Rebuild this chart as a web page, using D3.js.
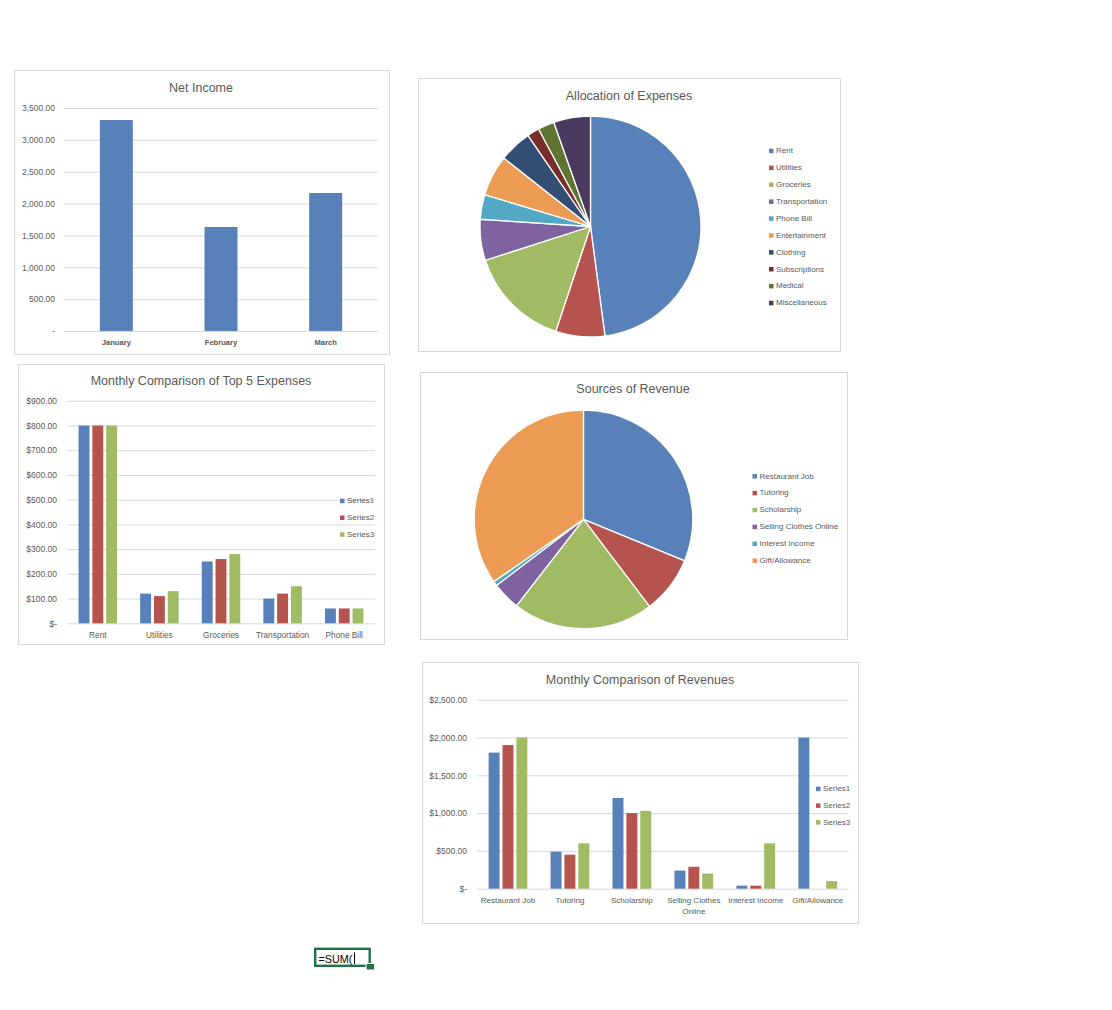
<!DOCTYPE html>
<html>
<head>
<meta charset="utf-8">
<script src="https://cdn.jsdelivr.net/npm/d3@7"></script>
<style>
  body { margin: 0; background: #ffffff; }
  text { font-family: "Liberation Sans", Arial, sans-serif; }
</style>
</head>
<body>
<script>
// ---- data ----
const months = ["January", "February", "March"];
const netIncome = [3311, 1632, 2166];
const netTicks = [0, 500, 1000, 1500, 2000, 2500, 3000, 3500];
const netTickLabels = ["-", "500.00", "1,000.00", "1,500.00", "2,000.00", "2,500.00", "3,000.00", "3,500.00"];

const expenseCats = ["Rent", "Utilities", "Groceries", "Transportation", "Phone Bill",
                     "Entertainment", "Clothing", "Subscriptions", "Medical", "Miscellaneous"];
const expenseShare = [800, 120, 250, 100, 60, 100, 80, 30, 40, 90];

const seriesNames = ["Series1", "Series2", "Series3"];
const top5Cats = ["Rent", "Utilities", "Groceries", "Transportation", "Phone Bill"];
const top5S1 = [800, 120, 250, 100, 60];
const top5S2 = [800, 110, 260, 120, 60];
const top5S3 = [800, 130, 280, 150, 60];
const top5Ticks = [0, 100, 200, 300, 400, 500, 600, 700, 800, 900];
const top5TickLabels = ["$-", "$100.00", "$200.00", "$300.00", "$400.00", "$500.00", "$600.00", "$700.00", "$800.00", "$900.00"];

const revenueCats = ["Restaurant Job", "Tutoring", "Scholarship", "Selling Clothes Online", "Interest Income", "Gift/Allowance"];
const revenueShare = [1800, 490, 1200, 240, 40, 2000];
const revS1 = [1800, 490, 1200, 240, 40, 2000];
const revS2 = [1900, 450, 1000, 290, 40, 0];
const revS3 = [2000, 600, 1030, 200, 600, 100];
const revTicks = [0, 500, 1000, 1500, 2000, 2500];
const revTickLabels = ["$-", "$500.00", "$1,000.00", "$1,500.00", "$2,000.00", "$2,500.00"];
const revCatLines = [["Restaurant Job"], ["Tutoring"], ["Scholarship"], ["Selling Clothes", "Online"], ["Interest Income"], ["Gift/Allowance"]];

// Excel-ish palette
const palette = ["#5880b9", "#b5544f", "#a1bb64", "#7e63a0", "#52a8c5",
                 "#eb9b54", "#334d73", "#772e2b", "#5f7532", "#4a3a5f"];
const textGrey = "#595959";
const gridGrey = "#d9d9d9";

const svg = d3.select("body").append("svg")
    .attr("width", 1112)
    .attr("height", 1010)
    .style("background", "#ffffff");

// chart frame
function frame(x, y, w, h) {
    svg.append("rect")
        .attr("x", x + 0.5).attr("y", y + 0.5)
        .attr("width", w).attr("height", h)
        .attr("fill", "#ffffff")
        .attr("stroke", gridGrey);
}

function title(text, cx, cy) {
    svg.append("text")
        .attr("x", cx).attr("y", cy)
        .attr("text-anchor", "middle")
        .attr("dominant-baseline", "central")
        .style("font-size", "12.5px")
        .style("fill", textGrey)
        .text(text);
}

// y axis with gridlines
function yGrid(y, ticks, labels, x0, x1, pad) {
    const g = svg.append("g").attr("transform", `translate(${x0},0)`)
        .call(d3.axisLeft(y)
            .tickValues(ticks)
            .tickFormat((d, i) => labels[i])
            .tickSize(-(x1 - x0))
            .tickPadding(pad));
    g.select(".domain").remove();
    g.selectAll("line").attr("stroke", gridGrey);
    g.selectAll("text").style("font-size", "8.5px").style("fill", textGrey)
        .style("font-family", "'Liberation Sans', Arial, sans-serif");
    return g;
}

function legend(items, x, y0, step, colors) {
    const g = svg.append("g");
    const it = g.selectAll("g").data(items).join("g")
        .attr("transform", (d, i) => `translate(${x},${y0 + i * step})`);
    it.append("rect")
        .attr("x", -2).attr("y", -2).attr("width", 4.5).attr("height", 4.5)
        .attr("fill", (d, i) => colors[i]);
    it.append("text")
        .attr("x", 5).attr("dominant-baseline", "central")
        .style("font-size", "8px").style("fill", textGrey)
        .text(d => d);
}

// ---- Net Income ----
frame(14, 70, 375, 284);
title("Net Income", 201, 88);
{
    const y = d3.scaleLinear().domain([0, 3500]).range([331, 108]);
    const x = d3.scaleBand().domain(months).range([64, 378]);
    yGrid(y, netTicks, netTickLabels, 64, 378, 9);
    const bw = x.bandwidth() * 0.315;
    svg.append("g").selectAll("rect").data(netIncome).join("rect")
        .attr("x", (d, i) => x(months[i]) + (x.bandwidth() - bw) / 2)
        .attr("y", d => y(d))
        .attr("width", bw)
        .attr("height", d => y(0) - y(d))
        .attr("fill", palette[0]);
    svg.append("g").selectAll("text").data(months).join("text")
        .attr("x", d => x(d) + x.bandwidth() / 2)
        .attr("y", 342)
        .attr("text-anchor", "middle")
        .attr("dominant-baseline", "central")
        .style("font-size", "7.6px").style("font-weight", "bold")
        .style("fill", textGrey)
        .text(d => d);
}

// ---- Allocation of Expenses (pie) ----
function pieChart(values, cats, cx, cy, r) {
    const pie = d3.pie().sort(null)(values);
    const arc = d3.arc().innerRadius(0).outerRadius(r);
    svg.append("g").attr("transform", `translate(${cx},${cy})`)
        .selectAll("path").data(pie).join("path")
        .attr("d", arc)
        .attr("fill", (d, i) => palette[i])
        .attr("stroke", "#ffffff")
        .attr("stroke-width", 1.3)
        .attr("stroke-linejoin", "round");
}

frame(418, 78, 422, 273);
title("Allocation of Expenses", 629, 96);
pieChart(expenseShare, expenseCats, 590.5, 226.5, 110.5);
legend(expenseCats, 771, 150.7, 16.9, palette);

// ---- grouped bars ----
function groupedBars(cats, series, y, x0, frac, pad) {
    const x1 = d3.scaleBand().domain(seriesNames)
        .range([0, x0.bandwidth() * frac]).paddingInner(pad);
    const off = (x0.bandwidth() - x0.bandwidth() * frac) / 2;
    series.forEach((vals, s) => {
        svg.append("g").selectAll("rect").data(vals).join("rect")
            .attr("x", (d, i) => x0(cats[i]) + off + x1(seriesNames[s]))
            .attr("y", d => y(d))
            .attr("width", x1.bandwidth())
            .attr("height", d => y(0) - y(d))
            .attr("fill", palette[s]);
    });
}

// ---- Monthly Comparison of Top 5 Expenses ----
frame(18, 364, 366, 280);
title("Monthly Comparison of Top 5 Expenses", 201, 381);
{
    const y = d3.scaleLinear().domain([0, 900]).range([623.3, 400.8]);
    const x0 = d3.scaleBand().domain(top5Cats).range([67, 375]);
    yGrid(y, top5Ticks, top5TickLabels, 67, 375, 10);
    groupedBars(top5Cats, [top5S1, top5S2, top5S3], y, x0, 0.625, 0.21);
    svg.append("g").selectAll("text").data(top5Cats).join("text")
        .attr("x", d => x0(d) + x0.bandwidth() / 2)
        .attr("y", 634.7)
        .attr("text-anchor", "middle")
        .attr("dominant-baseline", "central")
        .style("font-size", "8.3px").style("fill", textGrey)
        .text(d => d);
    legend(seriesNames, 342, 500.7, 16.8, palette);
}

// ---- Sources of Revenue (pie) ----
frame(420, 372, 427, 267);
title("Sources of Revenue", 633, 389);
pieChart(revenueShare, revenueCats, 583.5, 519.3, 109.3);
legend(revenueCats, 754.5, 476, 16.9, palette);

// ---- Monthly Comparison of Revenues ----
frame(422, 662, 436, 261);
title("Monthly Comparison of Revenues", 640, 680);
{
    const y = d3.scaleLinear().domain([0, 2500]).range([888.7, 699.7]);
    const x0 = d3.scaleBand().domain(revenueCats).range([477, 848.7]);
    yGrid(y, revTicks, revTickLabels, 477, 848.7, 10);
    groupedBars(revenueCats, [revS1, revS2, revS3], y, x0, 0.625, 0.21);
    const lab = svg.append("g").selectAll("text").data(revenueCats).join("text")
        .attr("x", d => x0(d) + x0.bandwidth() / 2)
        .attr("y", 900)
        .attr("text-anchor", "middle")
        .attr("dominant-baseline", "central")
        .style("font-size", "8px").style("fill", textGrey);
    lab.each(function(d, i) {
        const t = d3.select(this);
        revCatLines[i].forEach((line, k) => {
            t.append("tspan")
                .attr("x", x0(d) + x0.bandwidth() / 2)
                .attr("dy", k === 0 ? 0 : 10.5)
                .text(line);
        });
    });
    legend(seriesNames, 818, 788.7, 16.7, palette);
}

// ---- selected cell with formula being typed ----
svg.append("rect")
    .attr("x", 315.2).attr("y", 948.8)
    .attr("width", 54.5).attr("height", 17)
    .attr("fill", "#ffffff")
    .attr("stroke", "#217346")
    .attr("stroke-width", 2.4);
svg.append("rect")
    .attr("x", 366).attr("y", 963.5)
    .attr("width", 8.5).attr("height", 6.5)
    .attr("fill", "#217346")
    .attr("stroke", "#ffffff")
    .attr("stroke-width", 1);
svg.append("text")
    .attr("x", 318.5).attr("y", 958.5)
    .attr("dominant-baseline", "central")
    .style("font-size", "10.8px")
    .style("fill", "#000000")
    .text("=SUM(");
svg.append("line")
    .attr("x1", 354.5).attr("x2", 354.5)
    .attr("y1", 952.5).attr("y2", 964)
    .attr("stroke", "#000000")
    .attr("stroke-width", 1);
</script>
</body>
</html>
